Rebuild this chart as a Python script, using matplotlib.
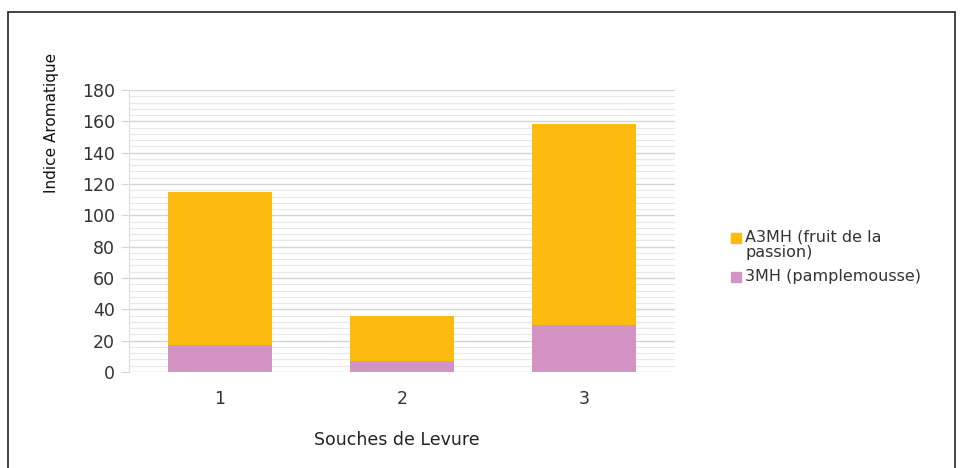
import matplotlib
matplotlib.use("Agg")
import matplotlib.pyplot as plt
from matplotlib.patches import Rectangle
import numpy as np

categories = ["1", "2", "3"]
mh3 = [17, 7, 30]            # 3MH (pamplemousse)
a3mh = [98, 29, 128]         # A3MH (fruit de la passion)
series_labels = ["A3MH (fruit de la\npassion)", "3MH (pamplemousse)"]
colors = {"a3mh": "#FDBB0F", "mh3": "#D494C3"}
yticks = list(range(0, 181, 20))

plt.rcParams['font.family'] = ['DejaVu Sans']
fig = plt.figure(figsize=(9.63, 4.68), dpi=100)
ax = fig.add_axes([129/963, 1-372/468, (675-129)/963, (372-90)/468])

x = np.arange(len(categories))
w = 0.57
ax.bar(x, mh3, w, color=colors["mh3"], zorder=3)
ax.bar(x, a3mh, w, bottom=mh3, color=colors["a3mh"], zorder=3)

ax.set_xlim(-0.5, 2.5)
ax.set_ylim(0, 180)
ax.set_yticks(yticks)
ax.set_yticks(np.arange(0, 181, 4), minor=True)
ax.yaxis.grid(True, which='major', color='#d4d4d4', lw=1.0, zorder=0)
ax.yaxis.grid(True, which='minor', color='#e8e8e8', lw=0.8, zorder=0)
ax.set_xticks(x)
ax.set_xticklabels(categories)
ax.tick_params(axis='y', which='major', length=6, color='#d4d4d4', labelsize=12.5, labelcolor='#333333', pad=4)
ax.tick_params(axis='y', which='minor', length=0)
ax.tick_params(axis='x', length=0, labelsize=12.5, labelcolor='#333333', pad=13)
for s in ['top', 'right', 'bottom']:
    ax.spines[s].set_visible(False)
ax.spines['left'].set_color('#dddddd')

fig.text(397/963, 1-440/468, "Souches de Levure", ha='center', va='center', fontsize=12.5, color='#222222')
fig.text(52/963, 1-123/468, "Indice Aromatique", ha='center', va='center', rotation=90,
         fontsize=11, color='#111111', family=['Liberation Sans Narrow', 'DejaVu Sans'])

# legend (manual)
fig.patches.append(Rectangle((731/963, 1-243/468), 10/963, 10/468, transform=fig.transFigure,
                             color=colors["a3mh"], figure=fig))
fig.patches.append(Rectangle((731/963, 1-282/468), 10/963, 10/468, transform=fig.transFigure,
                             color=colors["mh3"], figure=fig))
fig.text(745/963, 1-229/468, series_labels[0], ha='left', va='top', fontsize=11.5,
         color='#333333', linespacing=1.05)
fig.text(745/963, 1-277/468, series_labels[1], ha='left', va='center', fontsize=11.5, color='#333333')

# frame border
fig.patches.append(Rectangle((8/963, -0.05), (955-8)/963, 1-12/468+0.05, transform=fig.transFigure,
                             fill=False, edgecolor='#222222', lw=1.2, figure=fig))

fig.savefig("out.png", dpi=100, facecolor='white')
